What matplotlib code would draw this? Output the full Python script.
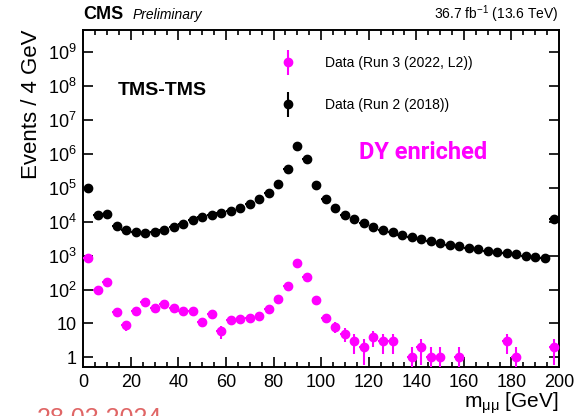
import matplotlib
matplotlib.use("Agg")
import matplotlib.pyplot as plt
import numpy as np
from matplotlib.container import ErrorbarContainer
from matplotlib.legend_handler import HandlerErrorbar
from matplotlib.ticker import FixedLocator, MultipleLocator, FuncFormatter

plt.rcParams['font.family'] = ['Liberation Sans', 'DejaVu Sans']
plt.rcParams['mathtext.fontset'] = 'custom'
plt.rcParams['mathtext.rm'] = 'Liberation Sans'
plt.rcParams['mathtext.it'] = 'Liberation Sans:italic'
plt.rcParams['mathtext.bf'] = 'Liberation Sans:bold'

# Dimuon mass bin centres (4 GeV bins)
mass = np.arange(2, 200, 4)

# Run 2 (2018) data, events / 4 GeV
run2 = [1.0e5, 1.6e4, 1.7e4, 7.6e3, 5.8e3, 4.9e3, 4.6e3, 5.1e3, 5.8e3, 7.2e3,
        8.7e3, 1.1e4, 1.37e4, 1.6e4, 1.8e4, 2.1e4, 2.6e4, 3.3e4, 4.6e4, 6.9e4,
        1.3e5, 3.6e5, 1.7e6, 7.2e5, 1.2e5, 4.8e4, 2.5e4, 1.6e4, 1.2e4, 9.3e3,
        7.1e3, 5.9e3, 5.0e3, 4.2e3, 3.5e3, 3.2e3, 2.75e3, 2.45e3, 2.1e3, 1.9e3,
        1.66e3, 1.55e3, 1.38e3, 1.3e3, 1.17e3, 1.1e3, 1.0e3, 930, 850, 1.2e4]

# Run 3 (2022, L2) data, events / 4 GeV
run3 = [850, 98, 162, 22, 9, 23, 44, 29, 37, 29,
        24, 23, 11, 19, 6, 13, 14, 15, 17, 27,
        52, 131, 630, 240, 50, 15, 8, 5, 3, 2,
        4, 3, 3, 0, 1, 2, 1, 1, 0, 1,
        0, 0, 0, 0, 3, 1, 0, 0, 0, 2]

run2 = np.array(run2, dtype=float)
run3 = np.array(run3, dtype=float)

fig = plt.figure(figsize=(5.76, 4.16), dpi=100)
ax = fig.add_axes([0.1446, 0.1185, 0.8259, 0.8095])

m3 = run3 > 0
h3 = ax.errorbar(mass[m3], run3[m3], yerr=np.sqrt(run3[m3]), xerr=2,
                 fmt='o', color='#ff00ff', markersize=6, elinewidth=1.5,
                 capsize=0, label='Data (Run 3 (2022, L2))', zorder=3)
h2 = ax.errorbar(mass, run2, yerr=np.sqrt(run2), xerr=2,
                 fmt='o', color='black', markersize=6, elinewidth=1.5,
                 capsize=0, label='Data (Run 2 (2018))', zorder=4)

ax.set_yscale('log')
ax.set_xlim(0, 200)
ax.set_ylim(0.53, 4.6e9)

ax.xaxis.set_major_locator(MultipleLocator(20))
ax.xaxis.set_minor_locator(MultipleLocator(5))
ax.yaxis.set_major_locator(FixedLocator([10.0 ** k for k in range(0, 10)]))


def ylab(v, pos):
    k = int(round(np.log10(v)))
    if k == 0:
        return '1'
    if k == 1:
        return '10'
    return r'$10^{%d}$' % k


ax.yaxis.set_major_formatter(FuncFormatter(ylab))
ax.tick_params(which='both', direction='in', top=True, right=True,
               labelsize=13, width=1.2)
ax.tick_params(which='major', length=7, pad=5)
ax.tick_params(which='minor', length=3.5)
for s in ax.spines.values():
    s.set_linewidth(1.4)

ax.set_ylabel('Events / 4 GeV', fontsize=16, loc='top')
ax.set_xlabel(r'm$_{\mathrm{μμ}}$ [GeV]', fontsize=15, loc='right', labelpad=0)

ax.legend(handles=[h3, h2], loc='upper left', bbox_to_anchor=(0.4156, 0.923),
          frameon=False, fontsize=10, labelspacing=2.05, handlelength=1.0,
          handletextpad=2.2, borderpad=0, borderaxespad=0,
          handler_map={ErrorbarContainer: HandlerErrorbar(xerr_size=0, yerr_size=0.9)})

ax.text(0.073, 0.82, 'TMS-TMS', transform=ax.transAxes, fontsize=14,
        fontweight='bold', va='center')
ax.text(0.58, 0.635, 'DY enriched', transform=ax.transAxes, fontsize=17,
        fontweight='bold', color='#ff00ff', family='Roboto', va='center')

fig.text(0.1446, 0.955, 'CMS', fontsize=13, fontweight='bold', va='baseline')
fig.text(0.231, 0.955, 'Preliminary', fontsize=10, style='italic', va='baseline')
fig.text(0.9705, 0.955, r'36.7 fb$^{-1}$ (13.6 TeV)', fontsize=10,
         ha='right', va='baseline')

fig.text(0.064, 0.022, '28.03.2024', fontsize=18, color='#e06666', va='top')

fig.savefig('out.png', dpi=100)
